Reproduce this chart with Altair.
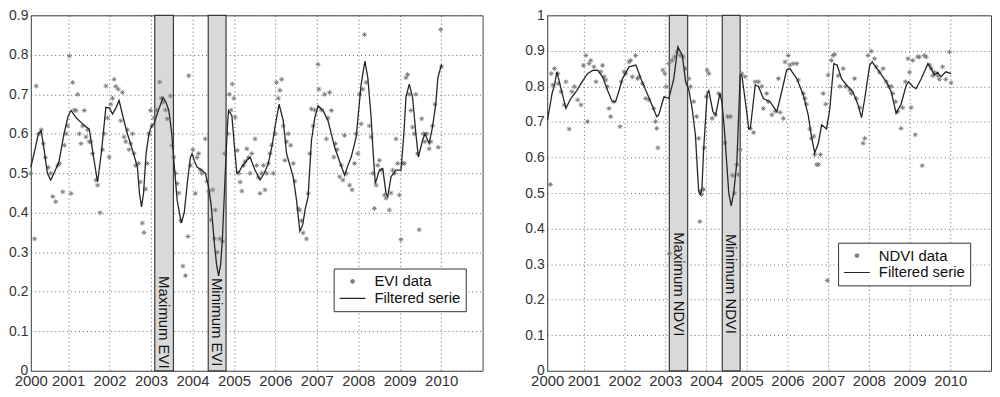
import altair as alt
import pandas as pd

# ---------------- data (years since 2000) ----------------
evi_line_t = [0.10, 0.20, 0.28, 0.35, 0.42, 0.50, 0.58, 0.66, 0.78, 0.90, 1.00, 1.07, 1.20, 1.31, 1.40,
              1.51, 1.60, 1.71, 1.80, 1.91, 2.00, 2.07, 2.15, 2.23, 2.33, 2.43, 2.55, 2.67, 2.72, 2.77,
              2.82, 2.88, 2.95, 3.01, 3.07, 3.18, 3.29, 3.36, 3.43, 3.50, 3.55, 3.63, 3.73, 3.80, 3.88,
              3.95, 3.99, 4.05, 4.11, 4.23, 4.31, 4.38, 4.45, 4.53, 4.58, 4.63, 4.68, 4.72, 4.77, 4.82,
              4.85, 4.87, 4.95, 5.01, 5.07, 5.13, 5.19, 5.31, 5.39, 5.50, 5.63, 5.73, 5.83, 5.92, 5.99,
              6.09, 6.19, 6.27, 6.35, 6.43, 6.51, 6.59, 6.66, 6.72, 6.79, 6.87, 6.95, 7.03, 7.15, 7.27,
              7.35, 7.43, 7.55, 7.67, 7.75, 7.83, 7.95, 8.01, 8.07, 8.16, 8.23, 8.31, 8.36, 8.41, 8.51,
              8.59, 8.67, 8.71, 8.79, 8.91, 9.03, 9.10, 9.15, 9.23, 9.31, 9.39, 9.45, 9.55, 9.61, 9.71,
              9.79, 9.87, 9.92, 10.01]
evi_line_v = [0.516, 0.56, 0.60, 0.608, 0.56, 0.50, 0.483, 0.50, 0.53, 0.60, 0.645, 0.659, 0.64, 0.629, 0.62,
              0.612, 0.55, 0.478, 0.55, 0.667, 0.665, 0.650, 0.665, 0.684, 0.64, 0.600, 0.56, 0.516, 0.45, 0.415,
              0.45, 0.55, 0.600, 0.62, 0.625, 0.66, 0.692, 0.68, 0.659, 0.60, 0.533, 0.432, 0.374, 0.40, 0.48,
              0.54, 0.550, 0.53, 0.516, 0.508, 0.500, 0.47, 0.42, 0.32, 0.27, 0.240, 0.27, 0.33, 0.45, 0.57,
              0.63, 0.659, 0.646, 0.57, 0.500, 0.505, 0.516, 0.533, 0.541, 0.51, 0.483, 0.50, 0.525, 0.57, 0.617,
              0.675, 0.633, 0.550, 0.52, 0.491, 0.432, 0.353, 0.37, 0.41, 0.441, 0.583, 0.64, 0.671, 0.659, 0.633,
              0.60, 0.566, 0.53, 0.495, 0.52, 0.541, 0.592, 0.66, 0.726, 0.784, 0.742, 0.642, 0.55, 0.474, 0.508,
              0.512, 0.449, 0.441, 0.491, 0.508, 0.508, 0.60, 0.692, 0.726, 0.692, 0.600, 0.541, 0.583, 0.600, 0.575,
              0.617, 0.675, 0.742, 0.776]

evi_pts_t = [0.10, 0.19, 0.23, 0.30, 0.35, 0.40, 0.45, 0.52, 0.58, 0.63, 0.70, 0.75, 0.79, 0.87, 0.91,
             0.95, 0.99, 1.03, 1.07, 1.11, 1.15, 1.19, 1.23, 1.27, 1.31, 1.35, 1.39, 1.43, 1.47, 1.51,
             1.55, 1.59, 1.67, 1.71, 1.77, 1.83, 1.87, 1.91, 1.95, 1.99, 2.03, 2.07, 2.11, 2.15, 2.21,
             2.27, 2.31, 2.35, 2.39, 2.43, 2.47, 2.51, 2.55, 2.59, 2.63, 2.70, 2.74, 2.79, 2.83, 2.87,
             2.91, 2.95, 2.99, 3.03, 3.07, 3.13, 3.21, 3.25, 3.29, 3.35, 3.39, 3.47, 3.51, 3.55, 3.59,
             3.63, 3.67, 3.72, 3.77, 3.83, 3.89, 3.91, 3.95, 4.01, 4.07, 4.11, 4.15, 4.19, 4.23, 4.31,
             4.35, 4.39, 4.43, 4.49, 4.53, 4.55, 4.60, 4.66, 4.73, 4.78, 4.85, 4.89, 4.93, 4.96, 5.00,
             5.03, 5.08, 5.12, 5.15, 5.19, 5.23, 5.27, 5.31, 5.35, 5.39, 5.43, 5.51, 5.55, 5.59, 5.63,
             5.67, 5.71, 5.75, 5.79, 5.83, 5.87, 5.91, 5.95, 5.99, 6.03, 6.07, 6.11, 6.15, 6.19, 6.23,
             6.27, 6.31, 6.37, 6.43, 6.47, 6.55, 6.59, 6.63, 6.67, 6.75, 6.79, 6.83, 6.87, 6.91, 6.95,
             7.03, 7.05, 7.11, 7.19, 7.23, 7.27, 7.31, 7.35, 7.41, 7.45, 7.49, 7.55, 7.59, 7.63, 7.67,
             7.71, 7.79, 7.85, 7.91, 7.95, 7.99, 8.03, 8.07, 8.11, 8.15, 8.19, 8.27, 8.31, 8.35, 8.39,
             8.43, 8.47, 8.51, 8.55, 8.63, 8.67, 8.75, 8.79, 8.83, 8.87, 8.91, 8.95, 8.99, 9.03, 9.07,
             9.11, 9.15, 9.19, 9.23, 9.27, 9.31, 9.35, 9.39, 9.43, 9.47, 9.53, 9.57, 9.61, 9.65, 9.71,
             9.75, 9.79, 9.85, 9.93, 9.99, 10.01]
evi_pts_v = [0.50, 0.334, 0.721, 0.60, 0.61, 0.575, 0.54, 0.515, 0.50, 0.441, 0.428, 0.52, 0.525, 0.453, 0.571,
             0.60, 0.62, 0.797, 0.449, 0.730, 0.66, 0.659, 0.700, 0.60, 0.575, 0.62, 0.659, 0.592, 0.61, 0.58,
             0.58, 0.55, 0.483, 0.47, 0.400, 0.56, 0.60, 0.721, 0.64, 0.541, 0.675, 0.69, 0.738, 0.72, 0.713,
             0.633, 0.705, 0.592, 0.58, 0.61, 0.56, 0.575, 0.600, 0.55, 0.52, 0.525, 0.478, 0.374, 0.350, 0.46,
             0.525, 0.60, 0.659, 0.62, 0.64, 0.66, 0.731, 0.69, 0.68, 0.66, 0.638, 0.696, 0.57, 0.541, 0.50,
             0.474, 0.45, 0.38, 0.265, 0.241, 0.340, 0.747, 0.52, 0.560, 0.449, 0.54, 0.550, 0.508, 0.50, 0.587,
             0.48, 0.455, 0.382, 0.458, 0.334, 0.407, 0.30, 0.334, 0.328, 0.55, 0.60, 0.700, 0.66, 0.726, 0.69,
             0.642, 0.558, 0.50, 0.478, 0.455, 0.52, 0.53, 0.562, 0.54, 0.50, 0.55, 0.587, 0.52, 0.49, 0.449,
             0.50, 0.52, 0.458, 0.50, 0.525, 0.55, 0.571, 0.50, 0.60, 0.730, 0.69, 0.71, 0.738, 0.62, 0.533,
             0.58, 0.60, 0.571, 0.525, 0.48, 0.41, 0.407, 0.38, 0.349, 0.334, 0.449, 0.55, 0.663, 0.62, 0.66,
             0.776, 0.713, 0.66, 0.70, 0.587, 0.64, 0.705, 0.659, 0.541, 0.575, 0.56, 0.491, 0.52, 0.483, 0.596,
             0.50, 0.470, 0.458, 0.525, 0.60, 0.55, 0.70, 0.625, 0.713, 0.851, 0.73, 0.62, 0.592, 0.50, 0.411,
             0.47, 0.52, 0.533, 0.508, 0.445, 0.437, 0.407, 0.45, 0.508, 0.50, 0.587, 0.525, 0.445, 0.332, 0.525,
             0.525, 0.742, 0.75, 0.70, 0.659, 0.617, 0.60, 0.700, 0.55, 0.357, 0.638, 0.60, 0.58, 0.60, 0.562,
             0.58, 0.62, 0.675, 0.566, 0.864, 0.77]

ndvi_line_t = [0.11, 0.22, 0.28, 0.34, 0.44, 0.56, 0.68, 0.81, 0.93, 1.09, 1.22, 1.34, 1.46, 1.58, 1.70,
               1.78, 1.87, 1.95, 2.11, 2.28, 2.40, 2.52, 2.64, 2.79, 2.84, 2.97, 3.09, 3.21, 3.31, 3.42,
               3.50, 3.58, 3.66, 3.74, 3.82, 3.86, 3.90, 3.94, 4.03, 4.07, 4.17, 4.24, 4.34, 4.39, 4.45,
               4.50, 4.56, 4.62, 4.68, 4.76, 4.81, 4.84, 4.88, 5.00, 5.05, 5.09, 5.21, 5.29, 5.41, 5.57,
               5.74, 5.86, 5.98, 6.06, 6.23, 6.39, 6.51, 6.59, 6.67, 6.76, 6.84, 6.96, 7.04, 7.14, 7.22,
               7.33, 7.45, 7.61, 7.73, 7.82, 7.90, 8.02, 8.08, 8.26, 8.43, 8.55, 8.67, 8.79, 8.92, 8.98,
               9.08, 9.16, 9.29, 9.45, 9.53, 9.61, 9.69, 9.77, 9.89, 10.02]
ndvi_line_v = [0.706, 0.78, 0.804, 0.841, 0.794, 0.738, 0.766, 0.785, 0.808, 0.836, 0.845, 0.846, 0.827, 0.790, 0.757,
               0.757, 0.79, 0.822, 0.855, 0.860, 0.822, 0.79, 0.757, 0.715, 0.72, 0.771, 0.766, 0.822, 0.911, 0.887,
               0.813, 0.79, 0.738, 0.664, 0.506, 0.496, 0.51, 0.617, 0.780, 0.788, 0.729, 0.72, 0.780, 0.757, 0.682,
               0.60, 0.50, 0.464, 0.50, 0.589, 0.74, 0.832, 0.832, 0.729, 0.68, 0.682, 0.804, 0.80, 0.766, 0.757,
               0.729, 0.785, 0.846, 0.85, 0.822, 0.776, 0.720, 0.66, 0.613, 0.64, 0.692, 0.68, 0.736, 0.864, 0.86,
               0.822, 0.804, 0.785, 0.75, 0.712, 0.766, 0.860, 0.869, 0.841, 0.813, 0.785, 0.724, 0.75, 0.804, 0.813,
               0.799, 0.794, 0.822, 0.864, 0.85, 0.832, 0.84, 0.827, 0.841, 0.836]

ndvi_pts_t = [0.18, 0.20, 0.24, 0.28, 0.36, 0.37, 0.44, 0.52, 0.56, 0.64, 0.71, 0.77, 0.85, 0.93, 0.99,
              1.05, 1.09, 1.13, 1.17, 1.25, 1.30, 1.42, 1.46, 1.50, 1.54, 1.58, 1.62, 1.66, 1.74, 1.89,
              1.92, 1.99, 2.03, 2.11, 2.15, 2.19, 2.27, 2.32, 2.36, 2.44, 2.52, 2.60, 2.72, 2.76, 2.79,
              2.82, 2.94, 2.99, 3.02, 3.09, 3.10, 3.17, 3.23, 3.29, 3.37, 3.44, 3.50, 3.58, 3.62, 3.70,
              3.77, 3.82, 3.85, 3.86, 3.89, 3.94, 3.96, 4.01, 4.03, 4.07, 4.15, 4.23, 4.31, 4.37, 4.47,
              4.53, 4.60, 4.65, 4.70, 4.76, 4.80, 4.84, 4.88, 4.96, 5.09, 5.17, 5.21, 5.29, 5.37, 5.41,
              5.49, 5.53, 5.62, 5.70, 5.78, 5.82, 5.90, 5.94, 6.02, 6.06, 6.14, 6.23, 6.27, 6.39, 6.43,
              6.47, 6.55, 6.59, 6.65, 6.67, 6.72, 6.76, 6.81, 6.88, 6.94, 6.98, 7.00, 7.08, 7.12, 7.16,
              7.25, 7.29, 7.37, 7.43, 7.53, 7.57, 7.65, 7.69, 7.78, 7.86, 7.90, 7.98, 8.06, 8.14, 8.18,
              8.26, 8.35, 8.43, 8.49, 8.55, 8.59, 8.66, 8.71, 8.79, 8.83, 8.90, 8.96, 9.00, 9.04, 9.08,
              9.14, 9.20, 9.24, 9.31, 9.36, 9.41, 9.49, 9.53, 9.57, 9.61, 9.69, 9.73, 9.81, 9.89, 9.98,
              10.02]
ndvi_pts_v = [0.524, 0.836, 0.804, 0.850, 0.836, 0.808, 0.785, 0.748, 0.813, 0.680, 0.785, 0.799, 0.762, 0.748, 0.859,
              0.887, 0.701, 0.864, 0.873, 0.855, 0.813, 0.841, 0.859, 0.827, 0.818, 0.799, 0.738, 0.715, 0.757, 0.687,
              0.813, 0.841, 0.836, 0.869, 0.873, 0.827, 0.887, 0.822, 0.827, 0.808, 0.766, 0.762, 0.738, 0.701, 0.682,
              0.627, 0.846, 0.836, 0.799, 0.864, 0.330, 0.873, 0.883, 0.897, 0.887, 0.883, 0.850, 0.822, 0.799, 0.757,
              0.715, 0.654, 0.420, 0.506, 0.496, 0.510, 0.627, 0.771, 0.846, 0.836, 0.710, 0.720, 0.780, 0.776, 0.641,
              0.715, 0.715, 0.550, 0.500, 0.580, 0.552, 0.622, 0.836, 0.827, 0.682, 0.670, 0.813, 0.813, 0.800, 0.738,
              0.780, 0.757, 0.720, 0.730, 0.822, 0.727, 0.710, 0.869, 0.887, 0.860, 0.864, 0.864, 0.818, 0.780, 0.766,
              0.750, 0.680, 0.654, 0.660, 0.608, 0.580, 0.580, 0.608, 0.780, 0.750, 0.254, 0.832, 0.873, 0.887, 0.890,
              0.830, 0.800, 0.850, 0.800, 0.790, 0.780, 0.822, 0.766, 0.740, 0.640, 0.654, 0.887, 0.899, 0.878, 0.855,
              0.840, 0.850, 0.813, 0.800, 0.800, 0.780, 0.757, 0.729, 0.682, 0.740, 0.813, 0.878, 0.840, 0.740, 0.873,
              0.664, 0.883, 0.883, 0.577, 0.887, 0.883, 0.860, 0.850, 0.830, 0.840, 0.830, 0.820, 0.855, 0.820, 0.897,
              0.810]

tick_years = [2000.1, 2001, 2002, 2003, 2004, 2005, 2006, 2007, 2008, 2009, 2010]
evi_yticks = [0, 0.1, 0.2, 0.3, 0.4, 0.5, 0.6, 0.7, 0.8, 0.9]
ndvi_yticks = [0, 0.1, 0.2, 0.3, 0.4, 0.5, 0.6, 0.7, 0.8, 0.9, 1.0]

evi_band_start = [2003.09, 2004.38]
evi_band_end = [2003.54, 2004.81]
evi_band_text = ["Maximum EVI", "Minimum EVI"]
evi_band_text_y = [0.24, 0.235]

ndvi_band_start = [2003.10, 2004.40]
ndvi_band_end = [2003.55, 2004.84]
ndvi_band_text = ["Maximum NDVI", "Minimum NDVI"]
ndvi_band_text_y = [0.39, 0.385]

ASTER = "M-1,0L1,0M0,-1L0,1M-0.7,-0.7L0.7,0.7M-0.7,0.7L0.7,-0.7"
# same asterisk drawn small inside the (large) legend symbol box
ASTER_LEG = "M-0.18,0L0.18,0M0,-0.18L0,0.18M-0.13,-0.13L0.13,0.13M-0.13,0.13L0.13,-0.13"
FONT = "Liberation Sans"
XFONT = "Liberation Sans Narrow, Liberation Sans"


def panel(line_t, line_v, pts_t, pts_v, b0, b1, btext, bty, ymax, yticks, data_label,
          width, lx, ly):
    df = pd.DataFrame({
        "t": [2000 + t for t in pts_t] + [2000 + t for t in line_t],
        "v": list(pts_v) + list(line_v),
        "series": [data_label] * len(pts_t) + ["Filtered serie"] * len(line_t),
    })
    bands = pd.DataFrame({"x0": b0, "x1": b1, "label": btext, "ly": bty,
                          "y0": [0.0] * len(b0), "y1": [ymax] * len(b0)})

    xs = alt.Scale(domain=[2000.1, 2011.0], nice=False, zero=False)
    ys = alt.Scale(domain=[0, ymax], nice=False, zero=True)
    xaxis = alt.Axis(values=tick_years, labelExpr="toString(floor(datum.value))", title=None,
                     grid=True, gridDash=[1, 3], gridColor="#555", gridWidth=1, gridOpacity=0.9,
                     ticks=False, domain=False, labelFont=XFONT, labelFontSize=15,
                     labelColor="#333", labelPadding=3, labelFlush=False, labelOverlap=False)
    yaxis = alt.Axis(values=yticks, format="~g", title=None, grid=True, gridDash=[1, 3],
                     gridColor="#555", gridWidth=1, gridOpacity=0.9, ticks=False, domain=False,
                     labelFont=FONT, labelFontSize=14, labelColor="#333", labelPadding=3,
                     minExtent=21, maxExtent=21, labelFlush=False, labelOverlap=False)

    sym_expr = "datum.value === 'Filtered serie' ? 'stroke' : '" + ASTER_LEG + "'"
    legend = alt.Legend(
        title=None, orient="none", legendX=lx, legendY=ly,
        strokeColor="#333", fillColor="white", padding=5, cornerRadius=0,
        labelFont=FONT, labelFontSize=15, labelColor="#111", labelOffset=8,
        symbolSize=676, symbolStrokeWidth=1.2, rowPadding=1, clipHeight=16,
        symbolType=alt.ExprRef(sym_expr),
    )
    color = alt.Color("series:N", scale=alt.Scale(domain=[data_label, "Filtered serie"],
                                                 range=["#7a7a7a", "#262626"]), legend=legend)

    rects = alt.Chart(bands).mark_rect(fill="#d9d9d9", stroke="#3a3a3a", strokeWidth=1.2).encode(
        x=alt.X("x0:Q", scale=xs, axis=xaxis), x2="x1:Q",
        y=alt.Y("y0:Q", scale=ys, axis=yaxis), y2="y1:Q")
    texts = alt.Chart(bands).transform_calculate(xm="(datum.x0 + datum.x1) / 2").mark_text(
        angle=90, align="left", baseline="middle", font=FONT, fontSize=15, color="#111").encode(
        x=alt.X("xm:Q", scale=xs, axis=xaxis), y=alt.Y("ly:Q", scale=ys, axis=yaxis), text="label:N")
    pts = alt.Chart(df).transform_filter(alt.datum.series == data_label).mark_point(
        shape=ASTER, filled=False, size=24, strokeWidth=0.9, opacity=1).encode(
        x=alt.X("t:Q", scale=xs, axis=xaxis), y=alt.Y("v:Q", scale=ys, axis=yaxis), color=color)
    line = alt.Chart(df).transform_filter(alt.datum.series == "Filtered serie").mark_line(
        strokeWidth=1.3).encode(
        x=alt.X("t:Q", scale=xs, axis=xaxis), y=alt.Y("v:Q", scale=ys, axis=yaxis), color=color)
    return alt.layer(rects, texts, pts, line).properties(width=width, height=358)


left = panel(evi_line_t, evi_line_v, evi_pts_t, evi_pts_v, evi_band_start, evi_band_end,
             evi_band_text, evi_band_text_y, 0.9, evi_yticks, "EVI data", 455, 305, 255)
right = panel(ndvi_line_t, ndvi_line_v, ndvi_pts_t, ndvi_pts_v, ndvi_band_start, ndvi_band_end,
              ndvi_band_text, ndvi_band_text_y, 1.0, ndvi_yticks, "NDVI data", 447, 293, 229)

chart = alt.hconcat(left, right, spacing=41).resolve_scale(color="independent").properties(
    padding={"top": -2, "left": 0, "right": 0, "bottom": 0}, background="white"
).configure_view(stroke="#444", strokeWidth=1)

chart.save("out.html", embed_options={"renderer": "svg", "actions": False})
